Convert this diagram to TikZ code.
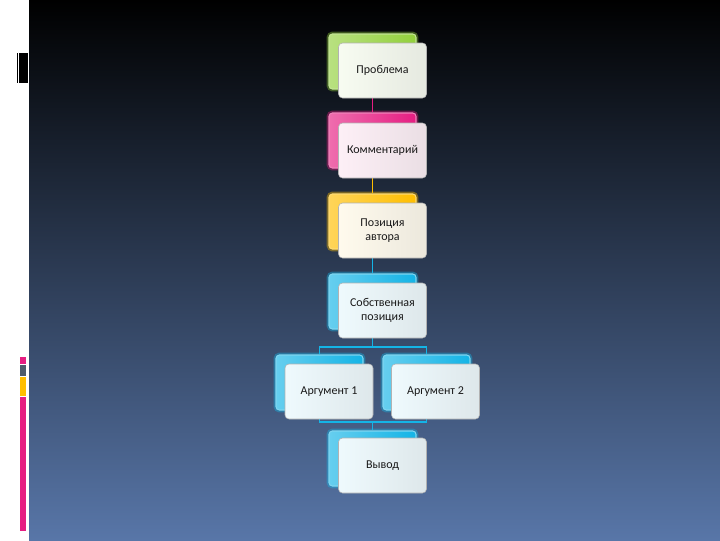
\documentclass[tikz,border=0pt]{standalone}
\usepackage{fontspec}
\setmainfont{Carlito}
\usetikzlibrary{backgrounds}

\definecolor{bgTop}{RGB}{0,0,0}
\definecolor{bgBot}{RGB}{88,118,168}
\definecolor{cGreen}{RGB}{146,208,60}
\definecolor{cPink}{RGB}{230,30,130}
\definecolor{cGold}{RGB}{255,190,0}
\definecolor{cCyan}{RGB}{20,180,230}
\definecolor{cSlate}{RGB}{78,92,108}

\begin{document}
\begin{tikzpicture}[x=0.75pt,y=0.75pt,yscale=-1,xscale=1,
  backbox/.style={rounded corners=2.5pt, minimum width=65.25pt, minimum height=41.25pt, inner sep=0pt,
    draw=#1!55!white, line width=0.8pt, left color=#1!65!white, right color=#1,
    preaction={draw=#1, line width=3.5pt, opacity=0.4}},
  frontbox/.style={rounded corners=3pt, minimum width=66pt, minimum height=41.25pt, inner sep=2pt, align=center,
    draw=gray!60, line width=0.4pt, left color=#1!7!white, right color=#1!7!white!85!gray,
    font=\fontsize{9}{10}\selectfont, text=black!90},
  link/.style={draw=#1, line width=0.8pt}]
\useasboundingbox (0,0) rectangle (720,540);

%Back Rects
\node[backbox=cGreen] (probB) at (372.5,61.5) {};
\node[backbox=cPink] (commB) at (372.5,140.5) {};
\node[backbox=cGold] (posB) at (372.5,221.5) {};
\node[backbox=cCyan] (ownB) at (372.5,301.5) {};
\node[backbox=cCyan] (arg1B) at (319.5,382.5) {};
\node[backbox=cCyan] (arg2B) at (426.5,382.5) {};
\node[backbox=cCyan] (conclB) at (372.5,458.5) {};

%Front Rects
\node[frontbox=cGreen] (prob) at (382.5,70.5) {Проблема};
\node[frontbox=cPink] (comm) at (382.5,150.5) {Комментарий};
\node[frontbox=cGold] (pos) at (382.5,230.5) {Позиция\\автора};
\node[frontbox=cCyan] (own) at (382.5,310.5) {Собственная\\позиция};
\node[frontbox=cCyan] (arg1) at (329,391.5) {Аргумент 1};
\node[frontbox=cCyan] (arg2) at (435.5,391.5) {Аргумент 2};
\node[frontbox=cCyan] (concl) at (382.5,465.5) {Вывод};

\coordinate (split) at (372.5,347);
\coordinate (join) at (372.5,422);

\begin{pgfonlayer}{background}
%Slide
\fill[top color=bgTop, bottom color=bgBot] (29,0) rectangle (720,540);
\fill[black] (17,53) rectangle (18.3,83);
\fill[black] (19,53) rectangle (28,83);
\fill[cPink] (20,357) rectangle (26,364);
\fill[cSlate] (20,365) rectangle (26,376);
\fill[cGold] (20,377) rectangle (26,396);
\fill[cPink] (20,397) rectangle (26,531);
%Connectors
\draw[link=cPink] (probB.south) -- (commB.north);
\draw[link=cGold] (commB.south) -- (posB.north);
\draw[link=cCyan] (posB.south) -- (ownB.north);
\draw[link=cCyan] (ownB.south) -- (split);
\draw[link=cCyan] (arg1B.north) |- (split) -| (arg2B.north);
\draw[link=cCyan] (arg1B.south) |- (join) -| (arg2B.south);
\draw[link=cCyan] (join) -- (conclB.north);
\end{pgfonlayer}
\end{tikzpicture}
\end{document}
